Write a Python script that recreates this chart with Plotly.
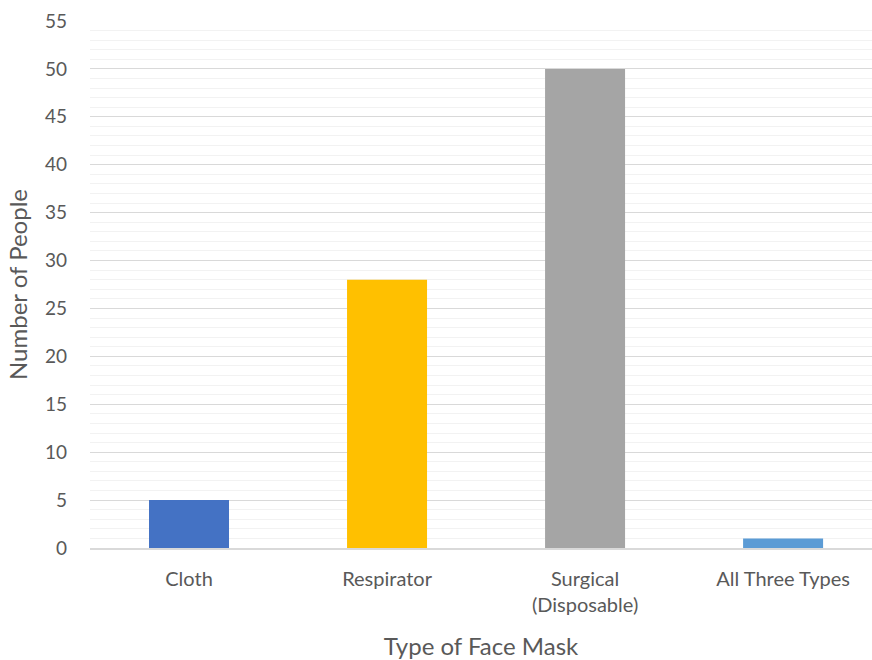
import plotly.graph_objects as go

categories = ["Cloth", "Respirator", "Surgical<br>(Disposable)", "All Three Types"]
counts = [5, 28, 50, 1]
bar_colors = ["#4472C4", "#FFC000", "#A5A5A5", "#5B9BD5"]
y_ticks = list(range(0, 56, 5))

font_family = "Lato, 'Open Sans', sans-serif"
text_color = "#595959"

fig = go.Figure(
    go.Bar(
        x=list(range(len(categories))),
        y=counts,
        marker=dict(color=bar_colors, line=dict(width=0)),
        hoverinfo="skip",
    )
)

fig.update_layout(
    width=872,
    height=660,
    margin=dict(l=90, r=0, t=21, b=112),
    paper_bgcolor="white",
    plot_bgcolor="white",
    bargap=0.596,
    showlegend=False,
    font=dict(family=font_family, color=text_color, size=18),
)

fig.update_xaxes(
    tickmode="array",
    tickvals=list(range(len(categories))),
    ticktext=categories,
    range=[-0.5, 3.449],
    showgrid=False,
    showline=True,
    linecolor="#d9d9d9",
    linewidth=2,
    ticks="",
    ticklabelstandoff=12,
    tickfont=dict(size=20, color=text_color),
    title=dict(text="Type of Face Mask", font=dict(size=24, color=text_color), standoff=24),
)

fig.update_yaxes(
    range=[0, 55],
    tickmode="array",
    tickvals=y_ticks,
    showgrid=True,
    gridcolor="#d9d9d9",
    gridwidth=1,
    zeroline=False,
    showline=False,
    ticks="",
    ticklen=0,
    ticklabelstandoff=22,
    tickfont=dict(size=19, color=text_color),
    minor=dict(dtick=1, showgrid=True, gridcolor="#f2f2f2", gridwidth=1),
    title=dict(text="Number of People", font=dict(size=24, color=text_color), standoff=10),
)

fig.write_html("out.html")
